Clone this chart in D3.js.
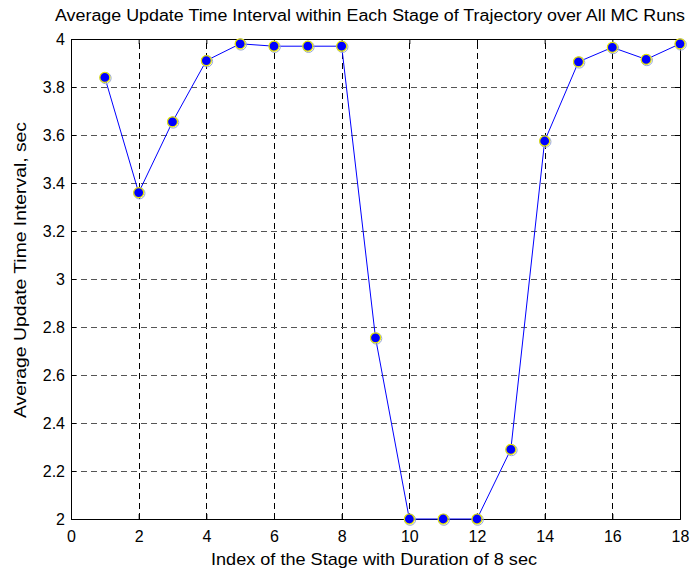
<!DOCTYPE html>
<html>
<head>
<meta charset="utf-8">
<script src="https://cdn.jsdelivr.net/npm/d3@7"></script>
<style>
body { margin: 0; background: #fff; }
svg text { font-family: "Liberation Sans", Arial, sans-serif; fill: #000; }
</style>
</head>
<body>
<svg id="chart" width="695" height="572"></svg>
<script>
// stage index and mean update interval
const stages = [1, 2, 3, 4, 5, 6, 7, 8, 9, 10, 11, 12, 13, 14, 15, 16, 17, 18]
const interval = [3.84, 3.36, 3.655, 3.91, 3.98, 3.97, 3.97, 3.97, 2.755, 2.0, 2.0, 2.0, 2.29, 3.575, 3.905, 3.965, 3.915, 3.98]
const xTicks = [0, 2, 4, 6, 8, 10, 12, 14, 16, 18]
const yTicks = [2, 2.2, 2.4, 2.6, 2.8, 3, 3.2, 3.4, 3.6, 3.8, 4]

const titleText = "Average Update Time Interval within Each Stage of Trajectory over All MC Runs"
const xLabel = "Index of the Stage with Duration of 8 sec"
const yLabel = "Average Update Time Interval, sec"

const svg = d3.select("#chart")
const m = { left: 71, right: 15, top: 39, bottom: 53 }
const W = 695, H = 572

let x = d3.scaleLinear().domain([0, 18]).range([m.left, W - m.right])
let y = d3.scaleLinear().domain([2, 4]).range([H - m.bottom, m.top])

// grid
let grid = svg.append("g")
grid.selectAll(".vgrid").data(xTicks.slice(1, -1)).enter().append("line")
	.attr("x1", d => Math.round(x(d)) + 0.5).attr("x2", d => Math.round(x(d)) + 0.5)
	.attr("y1", y(2)).attr("y2", y(4))
	.style("stroke", "#000").style("stroke-dasharray", "6,4")
grid.selectAll(".hgrid").data(yTicks.slice(1, -1)).enter().append("line")
	.attr("y1", d => Math.round(y(d)) + 0.5).attr("y2", d => Math.round(y(d)) + 0.5)
	.attr("x1", x(0)).attr("x2", x(18))
	.style("stroke", "#555").style("stroke-dasharray", "6,4")

// axes (ticks inward, box)
let xAxis = svg.append("g").attr("transform", `translate(0,${y(2)})`)
	.call(d3.axisBottom(x).tickValues(xTicks).tickSize(-5).tickPadding(9))
let yAxis = svg.append("g").attr("transform", `translate(${x(0)},0)`)
	.call(d3.axisLeft(y).tickValues(yTicks).tickSize(-5).tickPadding(6).tickFormat(d3.format("~g")))
svg.append("g").attr("transform", `translate(0,${y(4)})`)
	.call(d3.axisTop(x).tickValues(xTicks).tickSize(-5).tickFormat(""))
svg.append("g").attr("transform", `translate(${x(18)},0)`)
	.call(d3.axisRight(y).tickValues(yTicks).tickSize(-5).tickFormat(""))
svg.selectAll(".domain").style("stroke", "#000")
svg.selectAll(".tick line").style("stroke", "#000")
svg.selectAll(".tick text").style("font-size", "16px")
xAxis.selectAll(".tick text").attr("dy", "0.85em")

// data line
let pts = stages.map((s, i) => [s, interval[i]])
svg.append("path").datum(pts)
	.attr("d", d3.line().x(d => x(d[0])).y(d => y(d[1])))
	.style("fill", "none").style("stroke", "#0000ff").style("stroke-width", 1)

svg.selectAll(".halo").data(pts).enter().append("circle")
	.attr("cx", d => x(d[0]) + 0.7).attr("cy", d => y(d[1]) + 0.7).attr("r", 5.6)
	.style("fill", "none").style("stroke", "#9aa8d8").style("stroke-width", 1)
svg.selectAll(".marker").data(pts).enter().append("circle")
	.attr("cx", d => x(d[0])).attr("cy", d => y(d[1])).attr("r", 5)
	.style("fill", "#0000ff").style("stroke", "#e8e800").style("stroke-width", 1.2)

// labels
svg.append("text").attr("x", 370).attr("y", 21)
	.attr("text-anchor", "middle").style("font-size", "16px")
	.attr("textLength", 630).attr("lengthAdjust", "spacingAndGlyphs").text(titleText)
svg.append("text").attr("x", 374).attr("y", 565)
	.attr("text-anchor", "middle").style("font-size", "17px")
	.attr("textLength", 326).attr("lengthAdjust", "spacingAndGlyphs").text(xLabel)
svg.append("text").attr("transform", `translate(26,${270}) rotate(-90)`)
	.attr("text-anchor", "middle").style("font-size", "17px")
	.attr("textLength", 296).attr("lengthAdjust", "spacingAndGlyphs").text(yLabel)
</script>
</body>
</html>
